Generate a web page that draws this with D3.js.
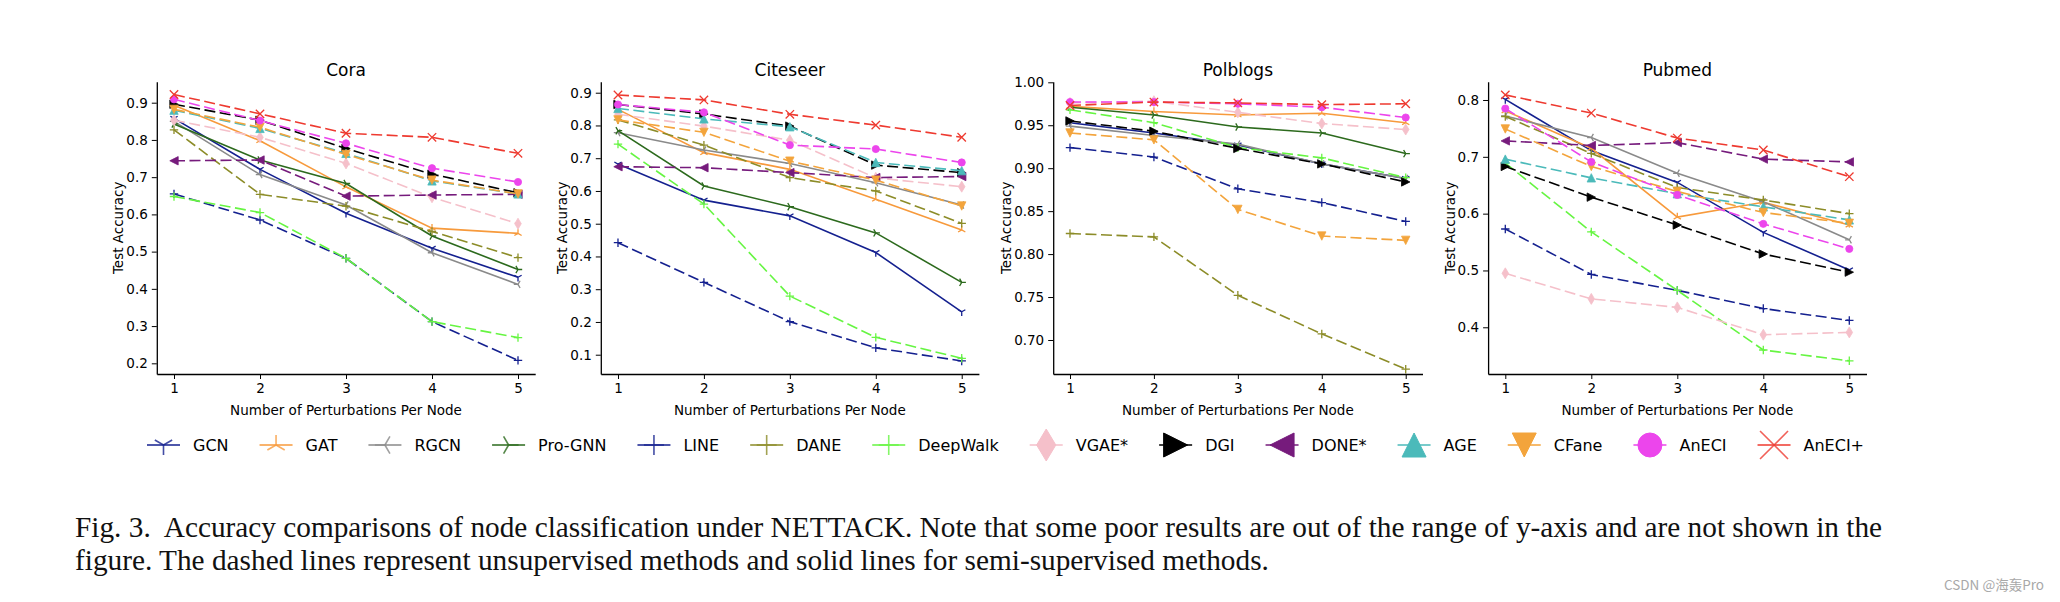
<!DOCTYPE html>
<html><head><meta charset="utf-8">
<script src="https://cdn.jsdelivr.net/npm/d3@7"></script>
<style>body{margin:0;background:#fff} svg{display:block}</style>
</head><body><svg id="c" width="2060" height="602"></svg>
<script>
// ---------------- data ----------------
const perturbations = [1, 2, 3, 4, 5];
const methods = ["GCN","GAT","RGCN","Pro-GNN","LINE","DANE","DeepWalk","VGAE*","DGI","DONE*","AGE","CFane","AnECI","AnECI+"];
const datasets = ["Cora","Citeseer","Polblogs","Pubmed"];

// rows follow the order of `methods`; null = out of y-range / not shown
const coraAcc = [
  [0.858, 0.721, 0.603, 0.509, 0.431],
  [0.893, 0.798, 0.674, 0.563, 0.549],
  [0.850, 0.707, 0.625, 0.497, 0.412],
  [0.843, 0.746, 0.683, 0.542, 0.452],
  [0.655, 0.585, 0.482, 0.312, 0.208],
  [0.827, 0.654, 0.622, 0.554, 0.484],
  [0.648, 0.605, 0.482, 0.312, 0.269],
  [0.853, 0.807, 0.737, 0.646, 0.575],
  [0.896, 0.853, 0.777, 0.708, 0.658],
  [0.744, 0.746, 0.649, 0.652, 0.654],
  [0.880, 0.831, 0.764, 0.690, 0.655],
  [0.882, 0.834, 0.761, 0.692, 0.655],
  [0.909, 0.852, 0.791, 0.724, 0.687],
  [0.922, 0.870, 0.818, 0.807, 0.764]
];
const citeseerAcc = [
  [0.682, 0.572, 0.524, 0.412, 0.231],
  [0.849, 0.717, 0.666, 0.575, 0.481],
  [0.778, 0.725, 0.684, 0.625, 0.557],
  [0.784, 0.615, 0.552, 0.472, 0.321],
  [0.442, 0.321, 0.201, 0.121, 0.081],
  [0.817, 0.740, 0.641, 0.600, 0.501],
  [0.743, 0.560, 0.279, 0.153, 0.089],
  [0.834, 0.798, 0.755, 0.640, 0.613],
  [0.864, 0.835, 0.798, 0.679, 0.656],
  [0.674, 0.671, 0.656, 0.641, 0.644],
  [0.852, 0.820, 0.796, 0.687, 0.662],
  [0.817, 0.779, 0.691, 0.633, 0.554],
  [0.864, 0.840, 0.740, 0.728, 0.687],
  [0.893, 0.878, 0.834, 0.801, 0.764]
];
const polblogsAcc = [
  [0.953, 0.941, 0.927, 0.905, 0.888],
  [0.972, 0.966, 0.962, 0.964, 0.953],
  [0.949, 0.938, 0.928, 0.905, 0.888],
  [0.971, 0.962, 0.948, 0.941, 0.917],
  [0.924, 0.913, 0.876, 0.860, 0.838],
  [0.824, 0.820, 0.752, 0.707, 0.666],
  [0.968, 0.953, 0.924, 0.912, 0.889],
  [0.976, 0.978, 0.965, 0.952, 0.945],
  [0.955, 0.943, 0.923, 0.905, 0.884],
  null,
  null,
  [0.941, 0.933, 0.852, 0.821, 0.816],
  [0.977, 0.977, 0.975, 0.971, 0.959],
  [0.973, 0.977, 0.976, 0.974, 0.975]
];
const pubmedAcc = [
  [0.801, 0.711, 0.655, 0.567, 0.501],
  [0.781, 0.715, 0.594, 0.620, 0.580],
  [0.772, 0.734, 0.671, 0.621, 0.554],
  null,
  [0.573, 0.493, 0.465, 0.433, 0.412],
  [0.771, 0.706, 0.646, 0.624, 0.600],
  [0.689, 0.568, 0.465, 0.360, 0.341],
  [0.495, 0.450, 0.435, 0.387, 0.391],
  [0.683, 0.629, 0.580, 0.529, 0.497],
  [0.728, 0.720, 0.725, 0.696, 0.691],
  [0.696, 0.663, 0.635, 0.612, 0.589],
  [0.749, 0.683, 0.639, 0.602, 0.583],
  [0.785, 0.691, 0.633, 0.582, 0.538],
  [0.809, 0.777, 0.733, 0.712, 0.665]
];
const coraTicks = [0.2, 0.3, 0.4, 0.5, 0.6, 0.7, 0.8, 0.9];
const citeseerTicks = [0.1, 0.2, 0.3, 0.4, 0.5, 0.6, 0.7, 0.8, 0.9];
const polblogsTicks = [0.70, 0.75, 0.80, 0.85, 0.90, 0.95, 1.00];
const pubmedTicks = [0.4, 0.5, 0.6, 0.7, 0.8];
const captionLines = [
  "Fig. 3.  Accuracy comparisons of node classification under NETTACK. Note that some poor results are out of the range of y-axis and are not shown in the",
  "figure. The dashed lines represent unsupervised methods and solid lines for semi-supervised methods."
];

// ---------------- styles ----------------
const colors = ["#14208f","#f79a3c","#8a8a8a","#2c6a1d","#14208f","#8c8c28","#66f542","#f5c0ca","#000000","#761b7c","#4bbaba","#f3a43c","#ec45ec","#ee3a30"];
const markers = ["tri_down","tri_up","tri_left","tri_right","plus","plus","plus","thin_diamond","tri_right_f","tri_left_f","tri_up_f","tri_down_f","circle","x"];
const dashed = [false,false,false,false,true,true,true,true,true,true,true,true,true,true];

const panels = [
  {data: coraAcc, ticks: coraTicks, fmt: d3.format(".1f"), x0: 156.8, x1: 535.2, dom: [0.1713, 0.9564], ylabX: 118},
  {data: citeseerAcc, ticks: citeseerTicks, fmt: d3.format(".1f"), x0: 600.8, x1: 978.9, dom: [0.0411, 0.9336], ylabX: 562},
  {data: polblogsAcc, ticks: polblogsTicks, fmt: d3.format(".2f"), x0: 1053.2, x1: 1422.5, dom: [0.6604, 1.0007], ylabX: 1006},
  {data: pubmedAcc, ticks: pubmedTicks, fmt: d3.format(".1f"), x0: 1488.1, x1: 1866.5, dom: [0.3178, 0.8322], ylabX: 1450}
];
const TOP = 81.7, BOT = 374;
const FONT = "DejaVu Sans, Liberation Sans, sans-serif";

function markerPath(type, r) {
  const c = 0.866 * r, h = 0.5 * r;
  switch (type) {
    case "tri_down": return `M0,0L0,${r}M0,0L${-c},${-h}M0,0L${c},${-h}`;
    case "tri_up": return `M0,0L0,${-r}M0,0L${-c},${h}M0,0L${c},${h}`;
    case "tri_left": return `M0,0L${-r},0M0,0L${h},${-c}M0,0L${h},${c}`;
    case "tri_right": return `M0,0L${r},0M0,0L${-h},${-c}M0,0L${-h},${c}`;
    case "plus": return `M${-r},0H${r}M0,${-r}V${r}`;
    case "x": return `M${-r},${-r}L${r},${r}M${-r},${r}L${r},${-r}`;
    case "thin_diamond": return `M0,${-r}L${0.6*r},0L0,${r}L${-0.6*r},0Z`;
    case "tri_right_f": return `M${r},0L${-r},${-r}L${-r},${r}Z`;
    case "tri_left_f": return `M${-r},0L${r},${-r}L${r},${r}Z`;
    case "tri_up_f": return `M0,${-r}L${r},${r}L${-r},${r}Z`;
    case "tri_down_f": return `M0,${r}L${r},${-r}L${-r},${-r}Z`;
    case "circle": return `M${r},0A${r},${r} 0 1,1 ${-r},0A${r},${r} 0 1,1 ${r},0Z`;
  }
}
const filled = t => ["thin_diamond","tri_right_f","tri_left_f","tri_up_f","tri_down_f","circle"].includes(t);
function chartR(t) {
  if (t === "thin_diamond") return 5.5;
  if (t === "circle") return 3.6;
  return 4.2;
}
function legendR(t) {
  if (t === "thin_diamond") return 16;
  if (t === "circle") return 12;
  if (t.endsWith("_f")) return 12;
  if (t === "x") return 14;
  return 10;
}

const svg = d3.select("#c");
svg.append("rect").attr("width", 2060).attr("height", 602).attr("fill", "#fff");

panels.forEach((p, pi) => {
  const x = d3.scaleLinear().domain([0.8, 5.2]).range([p.x0, p.x1]);
  const y = d3.scaleLinear().domain(p.dom).range([BOT, TOP]);
  const g = svg.append("g");

  p.data.forEach((vals, mi) => {
    if (!vals) return;
    const pts = vals.map((v, i) => [perturbations[i], v]);
    const line = d3.line().x(d => x(d[0])).y(d => y(d[1]));
    g.append("path").attr("d", line(pts)).attr("fill", "none")
      .attr("stroke", colors[mi]).attr("stroke-width", 1.6)
      .attr("stroke-dasharray", dashed[mi] ? "11,4.5" : null);
    const t = markers[mi];
    g.selectAll(null).data(pts).enter().append("path")
      .attr("transform", d => `translate(${x(d[0])},${y(d[1])})`)
      .attr("d", markerPath(t, chartR(t)))
      .attr("fill", filled(t) ? colors[mi] : "none")
      .attr("stroke", colors[mi]).attr("stroke-width", filled(t) ? 0.8 : 1.3);
  });

  const ya = d3.axisLeft(y).tickValues(p.ticks).tickFormat(p.fmt).tickSize(5).tickPadding(4).tickSizeOuter(0);
  const xa = d3.axisBottom(x).tickValues(perturbations).tickFormat(d3.format("d")).tickSize(5).tickPadding(4).tickSizeOuter(0);
  const gy = g.append("g").attr("transform", `translate(${p.x0},0)`).call(ya);
  const gx = g.append("g").attr("transform", `translate(0,${BOT})`).call(xa);
  [gx, gy].forEach(a => {
    a.select(".domain").attr("stroke", "#000").attr("stroke-width", 1.3);
    a.selectAll(".tick line").attr("stroke", "#000").attr("stroke-width", 1);
    a.selectAll(".tick text").attr("fill", "#000").style("font-family", FONT).style("font-size", "13.5px");
  });

  g.append("text").attr("x", (p.x0 + p.x1) / 2).attr("y", 76).attr("text-anchor", "middle")
    .style("font-family", FONT).style("font-size", "17px").text(datasets[pi]);
  g.append("text").attr("x", (p.x0 + p.x1) / 2).attr("y", 415).attr("text-anchor", "middle")
    .style("font-family", FONT).style("font-size", "13.5px").text("Number of Perturbations Per Node");
  g.append("text").attr("transform", `translate(${p.ylabX},${(TOP + BOT) / 2}) rotate(-90)`)
    .attr("text-anchor", "middle").attr("dy", "0.35em")
    .style("font-family", FONT).style("font-size", "13.5px").text("Test Accuracy");
});

// legend
let lx = 147;
const ly = 445;
methods.forEach((m, mi) => {
  const g = svg.append("g");
  g.append("line").attr("x1", lx).attr("x2", lx + 33).attr("y1", ly).attr("y2", ly)
    .attr("stroke", colors[mi]).attr("stroke-width", 2).attr("opacity", 0.75);
  const t = markers[mi];
  g.append("path").attr("transform", `translate(${lx + 16.5},${ly})`)
    .attr("d", markerPath(t, legendR(t)))
    .attr("fill", filled(t) ? colors[mi] : "none")
    .attr("stroke", colors[mi]).attr("stroke-width", filled(t) ? 1 : 1.6).attr("opacity", filled(t) ? 1 : 0.8);
  const tx = g.append("text").attr("x", lx + 46).attr("y", ly).attr("dy", "0.35em")
    .style("font-family", FONT).style("font-size", "16px").text(m);
  lx = lx + 46 + tx.node().getComputedTextLength() + 31;
});

// caption
captionLines.forEach((s, i) => {
  svg.append("text").attr("x", 75).attr("y", 537 + i * 33)
    .attr("xml:space", "preserve").style("white-space", "pre")
    .style("font-family", "Liberation Serif, Times New Roman, serif").style("font-size", "29.3px")
    .attr("fill", "#111").text(s);
});

// watermark
svg.append("text").attr("x", 2044).attr("y", 590).attr("text-anchor", "end")
  .style("font-family", "Noto Sans CJK SC, sans-serif").style("font-size", "13.5px")
  .attr("fill", "#a8a8a8").text("CSDN @海轰Pro");
</script>
</body></html>
